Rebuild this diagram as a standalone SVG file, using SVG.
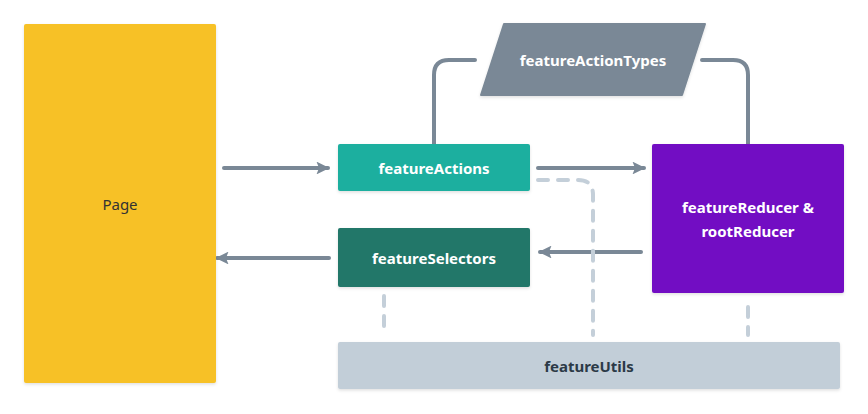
<svg xmlns="http://www.w3.org/2000/svg" width="868" height="414" viewBox="0 0 868 414">
<style>
.lbl{font-family:"Noto Sans","Open Sans",sans-serif;font-size:15px;font-weight:bold;fill:#ffffff;text-anchor:middle;dominant-baseline:central}
.dark{fill:#2c3a47}
.reg{font-weight:normal;fill:#333333}
.conn{fill:none;stroke:#7a8896;stroke-width:4;stroke-linecap:round}
.dash{fill:none;stroke:#c4cfd9;stroke-width:4;stroke-linecap:round;stroke-dasharray:10 10}
</style>
<defs>
<marker id="ah" viewBox="0 0 10 10" refX="9" refY="5" markerWidth="3.2" markerHeight="3.2" markerUnits="strokeWidth" orient="auto">
<path d="M0,0 L10,5 L0,10 L2,5 z" fill="#7a8896"/>
</marker>
<filter id="sh" x="-10%" y="-10%" width="120%" height="130%">
<feDropShadow dx="0" dy="1.5" stdDeviation="1.5" flood-color="#000" flood-opacity="0.12"/>
</filter>
</defs>
<g id="connectors">
<path class="conn" d="M224,168 H328" marker-end="url(#ah)"/>
<path class="conn" d="M538,168 H644" marker-end="url(#ah)"/>
<path class="conn" d="M641,252 H540" marker-end="url(#ah)"/>
<path class="conn" d="M329,258 H217" marker-end="url(#ah)"/>
<path class="conn" d="M434,144 V75 Q434,60 449,60 H475"/>
<path class="conn" d="M702,60 H733 Q748,60 748,75 V144"/>
<path class="dash" d="M538,180 H578 Q593,180 593,195 V335"/>
<path class="dash" d="M384,296 V332"/>
<path class="dash" d="M748,307 V335"/>
</g>
<g id="page">
<rect x="24" y="24" width="192" height="359" rx="2" fill="#f7c125" filter="url(#sh)"/>
<text class="lbl reg" x="120" y="204">Page</text>
</g>
<g id="featureActionTypes">
<polygon points="504,24 705,24 682,95 481,95" fill="#7a8896" stroke="#7a8896" stroke-width="2" stroke-linejoin="round" filter="url(#sh)"/>
<text class="lbl" x="593" y="60">featureActionTypes</text>
</g>
<g id="featureActions">
<rect x="338" y="144" width="192" height="47" rx="2" fill="#1baf9f" filter="url(#sh)"/>
<text class="lbl" x="434" y="168">featureActions</text>
</g>
<g id="featureSelectors">
<rect x="338" y="228" width="192" height="59" rx="2" fill="#207769" filter="url(#sh)"/>
<text class="lbl" x="434" y="258">featureSelectors</text>
</g>
<g id="featureReducer">
<rect x="652" y="144" width="192" height="149" rx="2" fill="#7210c3" filter="url(#sh)"/>
<text class="lbl" x="748" y="207">featureReducer &amp;</text>
<text class="lbl" x="748" y="231">rootReducer</text>
</g>
<g id="featureUtils">
<rect x="338" y="342" width="502" height="47" rx="2" fill="#c2ced8" filter="url(#sh)"/>
<text class="lbl dark" x="589" y="366">featureUtils</text>
</g>
</svg>
